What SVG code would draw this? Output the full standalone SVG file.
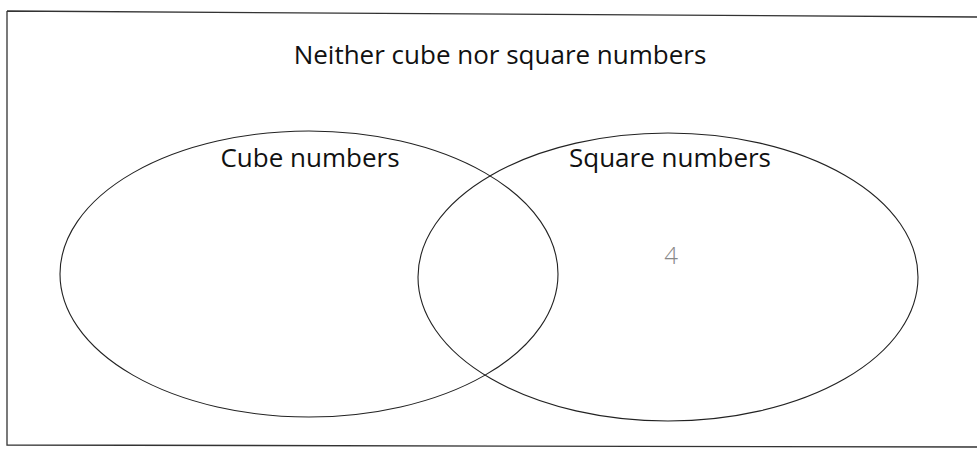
<svg xmlns="http://www.w3.org/2000/svg" width="977" height="449" viewBox="0 0 977 449">
<style>
.frame{fill:none;stroke:#333;stroke-width:1.3}
.set{fill:none;stroke:#222;stroke-width:1.1}
.lbl{font-family:"Open Sans","Liberation Sans",sans-serif;font-size:26px;fill:#111}
</style>
<rect width="977" height="449" fill="#fff"/>
<g id="frame">
<path class="frame" d="M7,11 L977,17 M7,11 L7,445 L977,447"/>
</g>
<text class="lbl" x="500" y="64" text-anchor="middle">Neither cube nor square numbers</text>
<g id="cube">
<ellipse class="set" cx="309" cy="274" rx="249" ry="143"/>
<text class="lbl" x="310" y="167" text-anchor="middle">Cube numbers</text>
</g>
<g id="square">
<ellipse class="set" cx="668" cy="277" rx="250" ry="144"/>
<text class="lbl" x="670" y="167" text-anchor="middle">Square numbers</text>
<text x="671" y="264" text-anchor="middle" style="font-family:'Open Sans','Liberation Sans',sans-serif;font-size:24px;font-weight:300;fill:#888">4</text>
</g>
<g id="connectors"/>
</svg>
